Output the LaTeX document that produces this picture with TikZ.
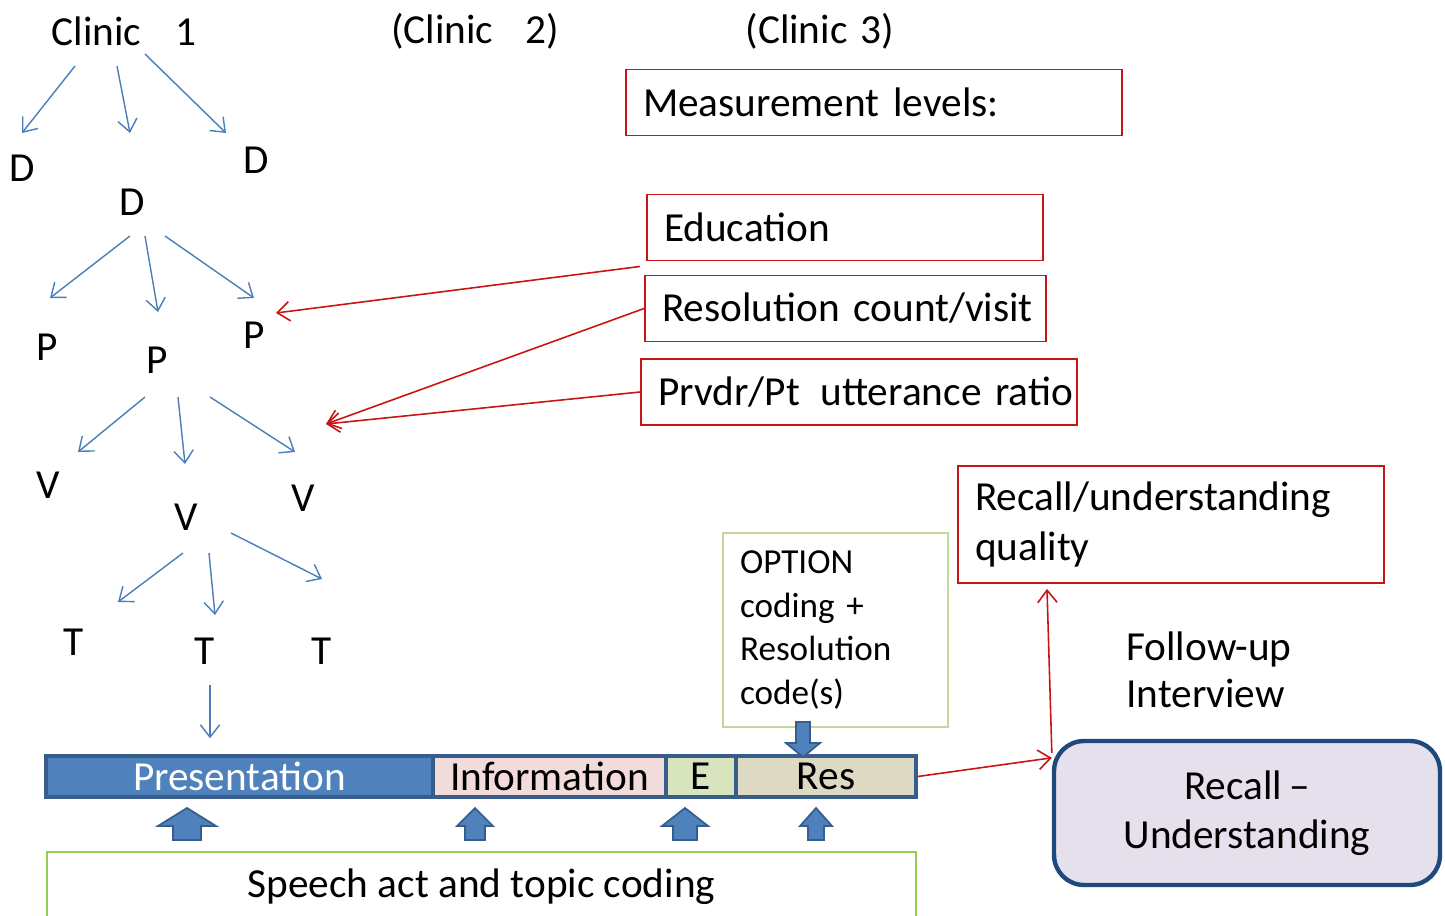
\documentclass[tikz,border=0pt]{standalone}
\usepackage{fontspec}
\setmainfont{Carlito}
\usetikzlibrary{arrows.meta, calc}
\definecolor{treeblue}{RGB}{74,126,187}
\definecolor{boxred}{RGB}{200,20,20}
\definecolor{optgreen}{RGB}{195,214,155}
\definecolor{speechgreen}{RGB}{146,208,80}
\definecolor{barblue}{RGB}{56,93,138}
\definecolor{presblue}{RGB}{79,129,189}
\definecolor{infopink}{RGB}{242,220,219}
\definecolor{egreen}{RGB}{215,228,189}
\definecolor{restan}{RGB}{221,217,195}
\definecolor{recallfill}{RGB}{230,224,236}
\definecolor{recallblue}{RGB}{31,73,125}
\newcommand{\blockarr}[6]{\draw[blockarrow] (#1,#2) -- ({#1+#3},{#2+#5}) -- ({#1+#4},{#2+#5}) -- ({#1+#4},{#2+#6}) -- ({#1-#4},{#2+#6}) -- ({#1-#4},{#2+#5}) -- ({#1-#3},{#2+#5}) -- cycle;}

\begin{document}
\begin{tikzpicture}[
  x=0.02cm, y=-0.02cm,
  every node/.style={font=\fontsize{23.5}{28}\selectfont, inner sep=0pt},
  redbox/.style={rectangle, draw=boxred, line width=1.1pt, inner xsep=0.34cm,
                 minimum height=1.32cm, align=left},
  segment/.style={rectangle, draw=barblue, line width=2pt, minimum height=0.82cm},
  treearrow/.style={-{Straight Barb[length=7pt,width=11pt]}, treeblue, line width=0.8pt},
  redarrow/.style={-{Straight Barb[length=7pt,width=11pt]}, boxred, line width=0.9pt},
  blockarrow/.style={fill=presblue, draw=barblue, line width=1pt}
]
\useasboundingbox (0,0) rectangle (1445,916);

\node (clinicA) at (124,31) {Clinic \hspace{0.5cm}1};
\node (clinicB) at (475,31) {(Clinic \hspace{0.45cm}2)};
\node (clinicC) at (820,31) {(Clinic \hspace{0.08cm}3)};

\node (dL) at (22,168) {D};
\node (dM) at (132,202) {D};
\node (dR) at (256,160) {D};
\node (pL) at (47,347) {P};
\node (pM) at (157,360) {P};
\node (pR) at (254,335) {P};
\node (vL) at (48,485) {V};
\node (vM) at (186,517) {V};
\node (vR) at (303,498) {V};
\node (tL) at (74,642) {T};
\node (tM) at (205,651) {T};
\node (tR) at (322,651) {T};

\node[redbox, text width=9.24cm] (meas) at (874,102.5) {\mbox{Measurement levels:}};
\node[redbox, text width=7.24cm] (educ) at (845,227.5) {\mbox{Education}};
\node[redbox, text width=7.34cm] (resol) at (845.5,308.5) {\mbox{Resolution count/visit}};
\node[redbox, text width=8.04cm] (prvdr) at (859,392) {\mbox{Prvdr/Pt \,utterance ratio}};
\node[redbox, text width=7.84cm, minimum height=2.34cm] (recallq) at (1171,524.5)
  {Recall/understanding\\quality};

\node[rectangle, draw=optgreen, line width=0.9pt, inner xsep=0.34cm, text width=3.82cm,
      minimum height=3.88cm, align=left, font=\fontsize{20}{25}\selectfont] (option) at (835.5,630)
  {OPTION\\coding +\\Resolution\\code(s)};

\node[anchor=west, align=left, font=\fontsize{23.5}{27}\selectfont] (followup) at (1126,670)
  {Follow-up\\Interview};

\node[rectangle, rounded corners=0.6cm, draw=recallblue, fill=recallfill, line width=2.5pt,
      minimum width=7.72cm, minimum height=2.88cm, align=center] (recall) at (1247,813)
  {Recall\,--\\Understanding};

\node[segment, fill=presblue, text=white, minimum width=7.74cm] (pres) at (239.5,776.5) {Presentation};
\node[segment, fill=infopink, minimum width=4.66cm] (info) at (549.5,776.5) {Information};
\node[segment, fill=egreen, minimum width=1.4cm] (evid) at (701,776.5) {E};
\node[segment, fill=restan, minimum width=3.6cm] (res) at (826,776.5) {Res};

\node[rectangle, draw=speechgreen, line width=1.1pt, minimum width=17.38cm,
      minimum height=1.4cm] (speech) at (481.5,887) {Speech act and topic coding};

\blockarr{187}{808}{29}{14}{18}{32}
\blockarr{475}{808}{18}{10}{18}{32}
\blockarr{685}{808}{23}{12}{18}{32}
\blockarr{816}{808}{16}{8}{18}{32}
\blockarr{803}{757}{17}{7}{-14}{-35}

\draw[treearrow] ([shift={(-49,35)}]clinicA.center) -- ([shift={(0,-35)}]dL.center);
\draw[treearrow] ([shift={(-7,35)}]clinicA.center) -- ([shift={(-2,-69)}]dM.center);
\draw[treearrow] ([shift={(21,23)}]clinicA.center) -- ([shift={(-30,-27)}]dR.center);
\draw[treearrow] ([shift={(-2,34)}]dM.center) -- ([shift={(3,-49)}]pL.center);
\draw[treearrow] ([shift={(13,34)}]dM.center) -- ([shift={(1,-48)}]pM.center);
\draw[treearrow] ([shift={(33,34)}]dM.center) -- ([shift={(0,-37)}]pR.center);
\draw[treearrow] ([shift={(-12,37)}]pM.center) -- ([shift={(30,-33)}]vL.center);
\draw[treearrow] ([shift={(21,37)}]pM.center) -- ([shift={(-1,-53)}]vM.center);
\draw[treearrow] ([shift={(53,37)}]pM.center) -- ([shift={(-8,-46)}]vR.center);
\draw[treearrow] ([shift={(-3,36)}]vM.center) -- ([shift={(44,-40)}]tL.center);
\draw[treearrow] ([shift={(23,36)}]vM.center) -- ([shift={(10,-36)}]tM.center);
\draw[treearrow] ([shift={(45,16)}]vM.center) -- ([shift={(0,-72)}]tR.center);
\draw[treearrow] ([shift={(5,34)}]tM.center) -- ([shift={(-29.5,-16)}]pres.north);

\coordinate (ptip) at (276,313);
\coordinate (vtip) at (326,424);
\draw[redarrow] ([shift={(-6,5)}]educ.south west) -- (ptip);
\draw[redarrow] (resol.west) -- (vtip);
\draw[redarrow] (prvdr.west) -- (vtip);
\draw[redarrow] (res.east) -- ([shift={(0,19)}]recall.north west);
\draw[redarrow] ([shift={(0,14)}]recall.north west) -- ([shift={(-124,5)}]recallq.south);
\end{tikzpicture}
\end{document}
